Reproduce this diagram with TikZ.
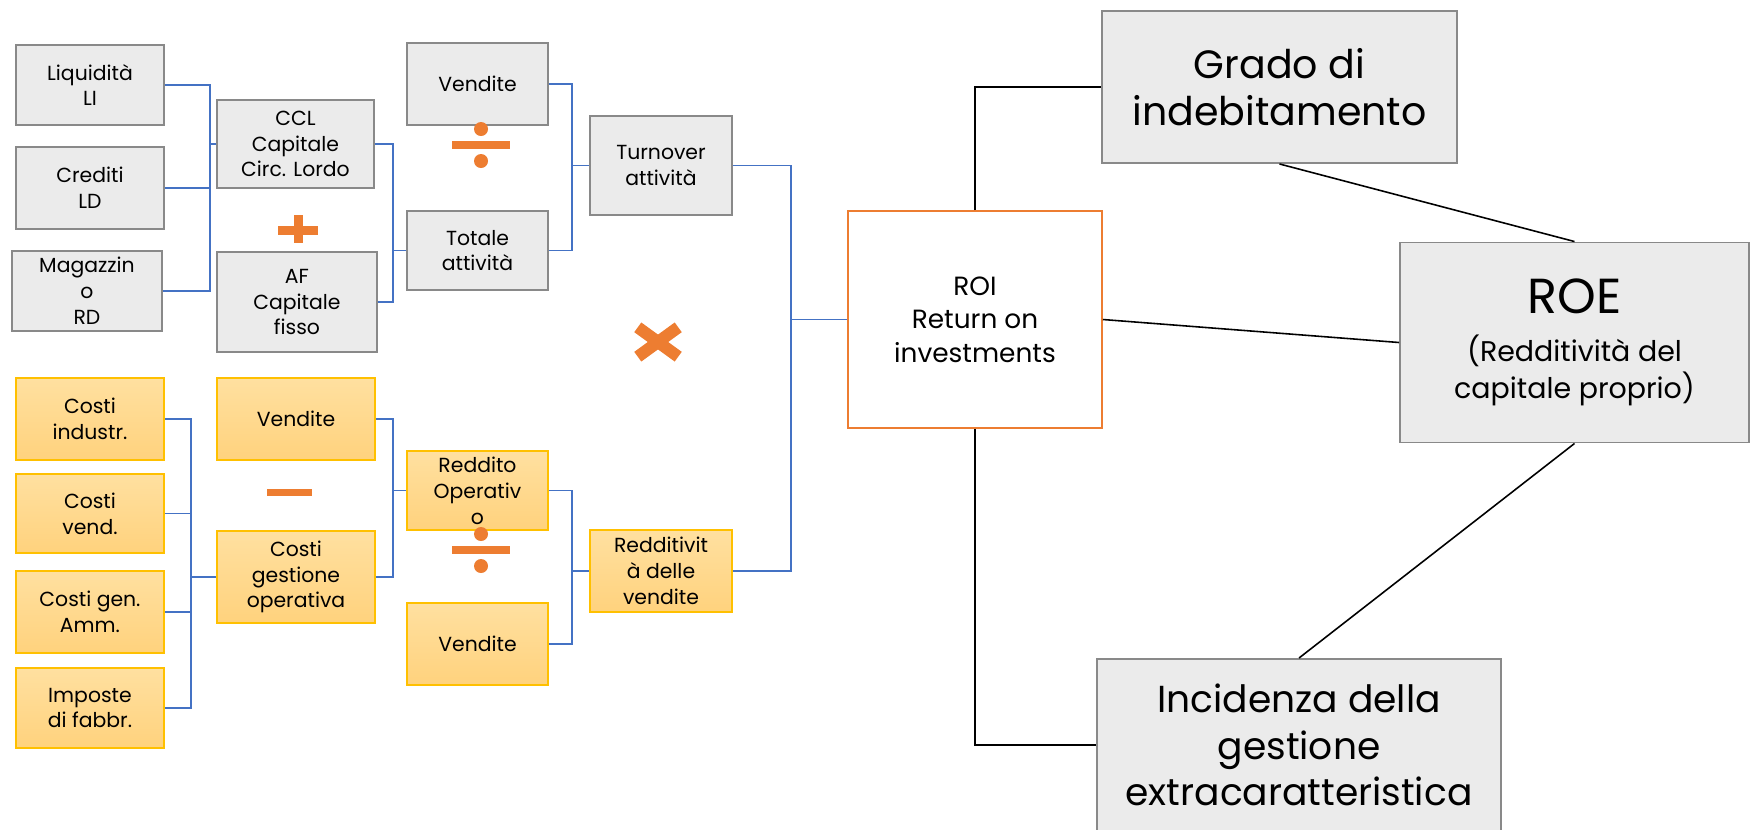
\documentclass[tikz,border=0pt]{standalone}
\usepackage{fontspec}
\setmainfont{Poppins}

\begin{document}
\begin{tikzpicture}[
    x=0.2mm, y=-0.2mm,
    box/.style={
        rectangle,
        draw,
        line width=1.1pt,
        inner sep=0pt,
        align=center,
        font=\fontsize{11.6}{14.7}\selectfont
    },
    greybox/.style={box, draw=greyline, fill=greyfill},
    orbox/.style={box, draw=orline, top color=orTop, bottom color=orBot},
    roibox/.style={box, draw=roiline, fill=white, line width=0.9pt},
    link/.style={draw=linkblue, line width=1pt},
    blk/.style={draw=black, line width=0.9pt},
    opc/.style={fill=opcol}
]

% 색상
\definecolor{greyfill}{RGB}{235,235,235}
\definecolor{greyline}{RGB}{137,137,137}
\definecolor{orTop}{RGB}{255,224,160}
\definecolor{orBot}{RGB}{255,210,125}
\definecolor{orline}{RGB}{255,192,0}
\definecolor{linkblue}{RGB}{68,114,196}
\definecolor{roiline}{RGB}{237,125,49}
\definecolor{opcol}{RGB}{237,125,49}

\useasboundingbox (0,0) rectangle (1750,829);

% 회색 상자
\node[greybox, minimum width=29.6mm, minimum height=16mm] (liq) at (90,85) {Liquidità\\LI};
\node[greybox, minimum width=29.6mm, minimum height=16.4mm] (cred) at (90,188) {Crediti\\LD};
\node[greybox, minimum width=30mm, minimum height=16mm] (mag) at (87,291) {Magazzin\\o\\RD};
\node[greybox, minimum width=31.4mm, minimum height=17.6mm] (ccl) at (295.5,144) {CCL\\Capitale\\Circ. Lordo};
\node[greybox, minimum width=32mm, minimum height=20mm] (af) at (297,302) {AF\\Capitale\\fisso};
\node[greybox, minimum width=28.2mm, minimum height=16.4mm] (vend1) at (477.5,84) {Vendite};
\node[greybox, minimum width=28.2mm, minimum height=15.8mm] (tot) at (477.5,250.5) {Totale\\attività};
\node[greybox, minimum width=28.4mm, minimum height=19.8mm] (turn) at (661,165.5) {Turnover\\attività};

% 주황 상자
\node[orbox, minimum width=29.6mm, minimum height=16.4mm] (ci) at (90,419) {Costi\\industr.};
\node[orbox, minimum width=29.6mm, minimum height=15.8mm] (cv) at (90,513.5) {Costi\\vend.};
\node[orbox, minimum width=29.6mm, minimum height=16.4mm] (cg) at (90,612) {Costi gen.\\Amm.};
\node[orbox, minimum width=29.6mm, minimum height=16mm] (imp) at (90,708) {Imposte\\di fabbr.};
\node[orbox, minimum width=31.6mm, minimum height=16.4mm] (vend2) at (296,419) {Vendite};
\node[orbox, minimum width=31.6mm, minimum height=18.4mm] (cgo) at (296,577) {Costi\\gestione\\operativa};
\node[orbox, minimum width=28.2mm, minimum height=15.8mm] (ro) at (477.5,490.5) {Reddito\\Operativ\\o};
\node[orbox, minimum width=28.2mm, minimum height=16.4mm] (vend3) at (477.5,644) {Vendite};
\node[orbox, minimum width=28.4mm, minimum height=16.4mm] (rdv) at (661,571) {Redditivit\\à delle\\vendite};

% 오른쪽
\node[roibox, minimum width=50.8mm, minimum height=43.4mm,
      font=\fontsize{15}{19}\selectfont] (roi) at (975,319.5) {ROI\\Return on\\investments};
\node[greybox, minimum width=71mm, minimum height=30.4mm,
      font=\fontsize{22.5}{26.6}\selectfont] (grado) at (1279.5,87) {Grado di\\indebitamento};
\node[greybox, minimum width=69.8mm, minimum height=40mm,
      font=\fontsize{16.2}{21}\selectfont] (roe) at (1574.5,342.5)
      {{\fontsize{28}{34}\selectfont ROE}\\[6pt](Redditività del\\capitale proprio)};
\node[greybox, minimum width=80.8mm, minimum height=34.4mm,
      font=\fontsize{21.4}{26.5}\selectfont] (inc) at (1299,745) {Incidenza della\\gestione\\extracaratteristica};

% 연결선
\draw[link] (liq.east) -- ++(45,0) |- (ccl.west);
\draw[link] (cred.east) -- ++(45,0) |- (ccl.west);
\draw[link] (mag.east) -- ++(47,0) |- (ccl.west);

\draw[link] (ccl.east) -- ++(18,0) |- (tot.west);
\draw[link] (af.east) -- ++(15,0) |- (tot.west);

\draw[link] (vend1.east) -- ++(23,0) |- (turn.west);
\draw[link] (tot.east) -- ++(23,0) |- (turn.west);

\draw[link] (ci.east) -- ++(26,0) |- (cgo.west);
\draw[link] (cv.east) -- ++(26,0) |- (cgo.west);
\draw[link] (cg.east) -- ++(26,0) |- (cgo.west);
\draw[link] (imp.east) -- ++(26,0) |- (cgo.west);

\draw[link] (vend2.east) -- ++(17,0) |- (ro.west);
\draw[link] (cgo.east) -- ++(17,0) |- (ro.west);

\draw[link] (ro.east) -- ++(23,0) |- (rdv.west);
\draw[link] (vend3.east) -- ++(23,0) |- (rdv.west);

\draw[link] (turn.east) -- ++(58,0) |- (roi.west);
\draw[link] (rdv.east) -- ++(58,0) |- (roi.west);

\draw[blk] (roi.north) |- (grado.west);
\draw[blk] (roi.south) |- (inc.west);
\draw[blk] (grado.south) -- (roe.north);
\draw[blk] (roi.east) -- (roe.west);
\draw[blk] (roe.south) -- (inc.north);

% 기호
\fill[opc] (278,225.5) rectangle (318,234.5);
\fill[opc] (293.5,215) rectangle (302.5,243);

\fill[opc] (452,141) rectangle (510,149);
\fill[opc] (481,129) circle[radius=7];
\fill[opc] (481,161) circle[radius=7];

\fill[opc] (267,488.5) rectangle (312,495.5);

\fill[opc] (452,546) rectangle (510,554);
\fill[opc] (481,534) circle[radius=7];
\fill[opc] (481,566) circle[radius=7];

\fill[opc, rotate around={36:(658,342)}] (633,336) rectangle (683,348);
\fill[opc, rotate around={-36:(658,342)}] (633,336) rectangle (683,348);

\end{tikzpicture}
\end{document}
